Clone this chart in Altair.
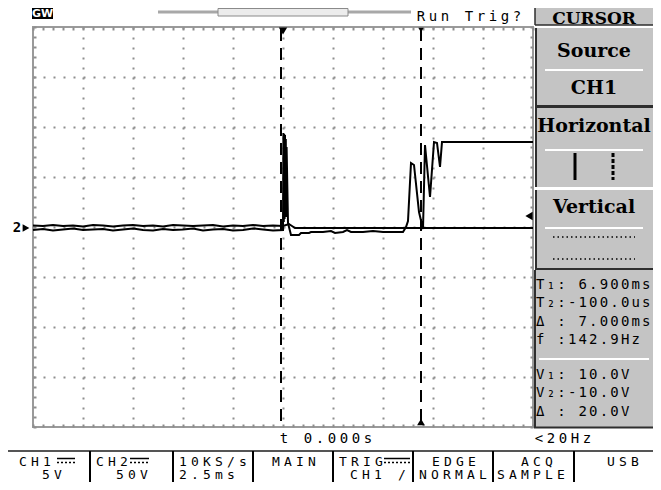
import altair as alt
import pandas as pd

# ---------------- waveform data (time in ms, volts) ----------------
pre_t = [-12.5, -12.0, -11.5, -11.0, -10.5, -10.0, -9.5, -9.0, -8.5, -8.0, -7.5, -7.0, -6.5,
         -6.0, -5.5, -5.0, -4.5, -4.0, -3.5, -3.0, -2.5, -2.0, -1.5, -1.0, -0.5, 0.0]
ch1_pre_v = [-0.3, -0.2, -0.35, -0.25, -0.15, -0.3, -0.25, -0.2, -0.35, -0.25, -0.15, -0.3, -0.35,
             -0.2, -0.3, -0.25, -0.15, -0.35, -0.25, -0.2, -0.35, -0.3, -0.15, -0.25, -0.35, -0.3]
ch1_post_t = [0.02, 0.04, 0.06, 0.08, 0.10, 0.12, 0.14, 0.16, 0.18, 0.25, 0.4, 0.8, 0.9, 1.3,
              1.4, 2.0, 2.4, 2.6, 3.0, 3.2, 3.4, 4.0, 4.5, 5.0, 5.5, 6.0, 6.15, 6.25, 6.4, 6.55,
              6.8, 7.0, 7.1, 7.35, 7.55, 7.7, 7.85, 7.95, 12.5]
ch1_post_v = [9.4, 0.5, 9.3, 0.8, 9.2, 1.5, 8.8, 1.0, 8.0, 0.4, -0.8, -0.8, -0.6, -0.6,
              -0.5, -0.5, -0.4, -0.6, -0.5, -0.3, -0.5, -0.5, -0.4, -0.5, -0.5, -0.5, 0.0, 0.6,
              6.4, 6.2, 1.5, -0.2, 8.2, 3.0, 8.5, 8.4, 6.0, 8.5, 8.5]
ch2_pre_v = [0.15, 0.1, 0.2, 0.1, 0.15, 0.05, 0.2, 0.15, 0.05, 0.15, 0.2, 0.1, 0.15,
             0.05, 0.2, 0.15, 0.1, 0.15, 0.2, 0.05, 0.15, 0.1, 0.2, 0.1, 0.15, 0.1]
ch2_post_t = [0.3, 0.6, 12.5]
ch2_post_v = [0.3, -0.1, -0.1]

cursor_t = [-0.1, 6.9]       # T2, T1
trigger_t = [0.0]
trigger_level = [1.1]
ground_v = [-0.1]

# ---------------- texts ----------------
status_text = ["Run Trig?", "t 0.000s", "<20Hz"]
menu_text = ["CURSOR", "Source", "CH1", "Horizontal", "Vertical"]
readout_text = ["T\u2081: 6.900ms", "T\u2082:-100.0us", "\u0394 : 7.000ms", "f :142.9Hz",
                "V\u2081: 10.0V", "V\u2082:-10.0V", "\u0394 : 20.0V"]
bar_row1 = ["CH1", "CH2", "10KS/s", "MAIN", "TRIG", "EDGE", "ACQ", "USB"]
bar_row2 = ["5V", "50V", "2.5ms", "", "CH1 /", "NORMAL", "SAMPLE", ""]
logo_text = "GW"
ground_label = "2"

# ---------------- layout (page pixels) ----------------
OX, OY = 33, 27          # plot-area origin on the page
W, H = 500, 400
R = 653                   # right edge of drawable page area
B = 482                   # bottom edge of drawable page area
GRID = "#8e8e8e"
PANEL = "#c4c4c4"
DARK = "#2e2e2e"
MONO = "DejaVu Sans Mono"
CX = (535 + R) / 2

def px(x):
    return x - OX

def py(y):
    return y - OY

def mono_rows(text, x0, y, pitch, size):
    return [{"x": px(x0) + i * pitch + pitch / 2, "y": py(y), "ch": c, "s": size}
            for i, c in enumerate(text) if c != " "]

xs = alt.Scale(domain=[-12.5, 12.5], nice=False, zero=False)
ys = alt.Scale(domain=[-20, 20], nice=False, zero=False)
PX = dict(scale=None, axis=None)

ch1 = pd.DataFrame({"t": pre_t + ch1_post_t, "v": ch1_pre_v + ch1_post_v})
ch2 = pd.DataFrame({"t": pre_t + ch2_post_t, "v": ch2_pre_v + ch2_post_v})

grid_x = alt.Axis(orient="bottom", values=[-10, -7.5, -5, -2.5, 0, 2.5, 5, 7.5, 10], grid=True,
                  gridColor=GRID, gridDash=[2, 8], gridWidth=2, ticks=False, labels=False,
                  domain=False, title=None)
grid_y = alt.Axis(orient="left", values=[-15, -10, -5, 0, 5, 10, 15], grid=True,
                  gridColor=GRID, gridDash=[2, 8], gridWidth=2, ticks=False, labels=False,
                  domain=False, title=None)
minor_x = [round(-12.5 + 0.5 * i, 2) for i in range(51)]
minor_y = [-20 + i for i in range(41)]

def tick_axis(orient, vals):
    return alt.Axis(orient=orient, values=vals, grid=False, ticks=True, tickSize=3, tickWidth=2,
                    tickColor=GRID, offset=-3, labels=False, domain=False, title=None)

grid_layer = alt.Chart(ch2).mark_line(opacity=0).encode(
    x=alt.X("t:Q", scale=xs, axis=grid_x), y=alt.Y("v:Q", scale=ys, axis=grid_y))
tick_layer1 = alt.Chart(ch2).mark_line(opacity=0).encode(
    x=alt.X("t:Q", scale=xs, axis=tick_axis("bottom", minor_x)),
    y=alt.Y("v:Q", scale=ys, axis=tick_axis("left", minor_y)))
tick_layer2 = alt.Chart(ch2).mark_line(opacity=0).encode(
    x=alt.X("t:Q", scale=xs, axis=tick_axis("top", minor_x)),
    y=alt.Y("v:Q", scale=ys, axis=tick_axis("right", minor_y)))

line2 = alt.Chart(ch2).mark_line(color="black", strokeWidth=2).encode(
    x=alt.X("t:Q", scale=xs, axis=None), y=alt.Y("v:Q", scale=ys, axis=None))
line1 = alt.Chart(ch1).mark_line(color="black", strokeWidth=2, interpolate="linear").encode(
    x=alt.X("t:Q", scale=xs, axis=None), y=alt.Y("v:Q", scale=ys, axis=None))

cur = pd.DataFrame({"t": cursor_t})
cursor_lines = alt.Chart(cur).mark_rule(color="black", strokeWidth=2, strokeDash=[12, 7]).encode(
    x=alt.X("t:Q", scale=xs, axis=None), y=alt.value(2), y2=alt.value(396))
trig_mark = alt.Chart(pd.DataFrame({"t": trigger_t})).mark_point(
    shape="triangle-down", filled=True, color="black", size=70, opacity=1).encode(
    x=alt.X("t:Q", scale=xs, axis=None), y=alt.value(4))
c1_top = alt.Chart(pd.DataFrame({"t": cursor_t[1:]})).mark_point(
    shape="triangle-down", filled=True, color="black", size=30, opacity=1).encode(
    x=alt.X("t:Q", scale=xs, axis=None), y=alt.value(3))
c1_bot = alt.Chart(pd.DataFrame({"t": cursor_t[1:]})).mark_point(
    shape="triangle-up", filled=True, color="black", size=60, opacity=1).encode(
    x=alt.X("t:Q", scale=xs, axis=None), y=alt.value(395))
lvl_mark = alt.Chart(pd.DataFrame({"v": trigger_level})).mark_point(
    shape="triangle-left", filled=True, color="black", size=70, opacity=1).encode(
    x=alt.value(W - 4), y=alt.Y("v:Q", scale=ys, axis=None))
gnd_mark = alt.Chart(pd.DataFrame({"v": ground_v})).mark_point(
    shape="triangle-right", filled=True, color="black", size=60, opacity=1).encode(
    x=alt.value(px(26)), y=alt.Y("v:Q", scale=ys, axis=None))
gnd_text = alt.Chart(pd.DataFrame({"v": ground_v, "s": [ground_label]})).mark_text(
    font=MONO, fontSize=14, fontWeight="bold", color="black").encode(
    x=alt.value(px(17)), y=alt.Y("v:Q", scale=ys, axis=None), text="s:N")

# ---------------- right panel / chrome ----------------
rects = pd.DataFrame([
    {"x": px(535), "x2": px(R), "y": py(8), "y2": py(25), "f": PANEL},
    {"x": px(535), "x2": px(R), "y": py(28), "y2": py(105), "f": PANEL},
    {"x": px(535), "x2": px(R), "y": py(108), "y2": py(187), "f": PANEL},
    {"x": px(535), "x2": px(R), "y": py(190), "y2": py(268), "f": PANEL},
    {"x": px(534), "x2": px(R), "y": py(270), "y2": py(427), "f": PANEL},
    {"x": px(32), "x2": px(53), "y": py(8), "y2": py(19), "f": "black"},
    {"x": px(218), "x2": px(348), "y": py(8.5), "y2": py(16), "f": "#ececec"},
])
rect_layer = alt.Chart(rects).mark_rect(stroke=None).encode(
    x=alt.X("x:Q", **PX), x2="x2:Q", y=alt.Y("y:Q", **PX), y2="y2:Q",
    color=alt.Color("f:N", scale=None))

rules = pd.DataFrame([
    # panel bevels
    {"x": px(535), "x2": px(R), "y": py(25), "y2": py(25), "c": DARK, "w": 1.5},
    {"x": px(535), "x2": px(535), "y": py(8), "y2": py(25), "c": DARK, "w": 1.5},
    {"x": px(536), "x2": px(536), "y": py(28), "y2": py(106), "c": DARK, "w": 2},
    {"x": px(535), "x2": px(R), "y": py(106.5), "y2": py(106.5), "c": DARK, "w": 3},
    {"x": px(536), "x2": px(536), "y": py(108), "y2": py(187), "c": DARK, "w": 2},
    {"x": px(536), "x2": px(536), "y": py(190), "y2": py(268), "c": DARK, "w": 2},
    {"x": px(535), "x2": px(R), "y": py(269), "y2": py(269), "c": DARK, "w": 2},
    {"x": px(535), "x2": px(535), "y": py(270), "y2": py(428), "c": DARK, "w": 2},
    {"x": px(534), "x2": px(R), "y": py(427.5), "y2": py(427.5), "c": DARK, "w": 2},
    # white separators inside menu boxes
    {"x": px(545), "x2": px(643), "y": py(70), "y2": py(70), "c": "white", "w": 2},
    {"x": px(545), "x2": px(643), "y": py(150), "y2": py(150), "c": "white", "w": 2},
    {"x": px(545), "x2": px(643), "y": py(228), "y2": py(228), "c": "white", "w": 2},
    {"x": px(539), "x2": px(649), "y": py(359), "y2": py(359), "c": "white", "w": 2},
    # horizontal-cursor icon (solid)
    {"x": px(575), "x2": px(575), "y": py(153), "y2": py(180), "c": "black", "w": 3},
    # memory bar
    {"x": px(158), "x2": px(218), "y": py(12), "y2": py(12), "c": "#a8a8a8", "w": 3},
    {"x": px(348), "x2": px(411), "y": py(12), "y2": py(12), "c": "#a8a8a8", "w": 3},
    {"x": px(218), "x2": px(348), "y": py(8.5), "y2": py(8.5), "c": "#8a8a8a", "w": 1},
    {"x": px(218), "x2": px(348), "y": py(16), "y2": py(16), "c": "#8a8a8a", "w": 1},
    {"x": px(218), "x2": px(218), "y": py(8.5), "y2": py(16), "c": "#8a8a8a", "w": 1},
    {"x": px(348), "x2": px(348), "y": py(8.5), "y2": py(16), "c": "#8a8a8a", "w": 1},
    # bottom bar
    {"x": px(8), "x2": px(R), "y": py(451), "y2": py(451), "c": "#555555", "w": 2},
] + [
    {"x": px(sx), "x2": px(sx), "y": py(451), "y2": py(B), "c": "black", "w": 2}
    for sx in [90, 173, 253, 333, 413, 493, 574]
] + [
    {"x": px(a), "x2": px(b), "y": py(458.5), "y2": py(458.5), "c": "black", "w": 1.5}
    for a, b in [(57, 75), (130, 149), (384, 410)]
])
rule_layer = alt.Chart(rules).mark_rule().encode(
    x=alt.X("x:Q", **PX), x2="x2:Q", y=alt.Y("y:Q", **PX), y2="y2:Q",
    color=alt.Color("c:N", scale=None), strokeWidth=alt.StrokeWidth("w:Q", scale=None))

dash_icon = alt.Chart(pd.DataFrame({"x": [px(613)], "y": [py(153)], "y2": [py(180)]})).mark_rule(
    color="black", strokeWidth=3, strokeDash=[4, 2]).encode(
    x=alt.X("x:Q", **PX), y=alt.Y("y:Q", **PX), y2="y2:Q")
dot_lines = alt.Chart(pd.DataFrame({"x": [px(553)] * 2, "x2": [px(635)] * 2,
                                    "y": [py(237), py(259)]})).mark_rule(
    color="black", strokeWidth=1.5, strokeDash=[1.5, 3]).encode(
    x=alt.X("x:Q", **PX), x2="x2:Q", y=alt.Y("y:Q", **PX))
coupling = alt.Chart(pd.DataFrame([
    {"x": px(a), "x2": px(b), "y": py(462.5)} for a, b in [(57, 75), (130, 149), (384, 410)]
])).mark_rule(color="black", strokeWidth=1.5, strokeDash=[2, 2]).encode(
    x=alt.X("x:Q", **PX), x2="x2:Q", y=alt.Y("y:Q", **PX))

# monospaced scope-style texts laid out on a character grid
chars = []
chars += mono_rows(status_text[0], 415, 16.5, 12, 14)
chars += mono_rows(status_text[1], 278, 439, 12, 14)
chars += mono_rows(status_text[2], 533, 439, 12, 14)
for txt, yy in zip(readout_text, [285, 303, 322, 340, 375, 393, 412]):
    chars += mono_rows(txt, 535, yy, 10.6, 14)
for txt, x0 in zip(bar_row1, [17, 94, 177, 270, 337, 430, 519, 605]):
    chars += mono_rows(txt, x0, 461.5, 12, 13)
for txt, x0 in zip(bar_row2, [40, 114, 177, 0, 348, 417, 495, 0]):
    chars += mono_rows(txt, x0, 475, 12, 13)
mono_layer = alt.Chart(pd.DataFrame(chars)).mark_text(
    font=MONO, align="center", baseline="middle", color="black").encode(
    x=alt.X("x:Q", **PX), y=alt.Y("y:Q", **PX), text="ch:N",
    size=alt.Size("s:Q", scale=None))

menu_df = pd.DataFrame({
    "x": [px(CX), px(CX), px(CX), px(CX), px(CX)],
    "y": [py(18.5), py(51), py(88), py(126), py(207)],
    "s": [17, 19, 19, 19, 19],
    "t": menu_text,
})
menu_layer = alt.Chart(menu_df).mark_text(
    font="DejaVu Serif", fontWeight="bold", align="center", baseline="middle", color="black").encode(
    x=alt.X("x:Q", **PX), y=alt.Y("y:Q", **PX), text="t:N", size=alt.Size("s:Q", scale=None))

logo = alt.Chart(pd.DataFrame({"x": [px(42.5)], "y": [py(13.5)], "t": [logo_text]})).mark_text(
    font="DejaVu Sans", fontWeight="bold", fontSize=11, color="white", align="center",
    baseline="middle").encode(x=alt.X("x:Q", **PX), y=alt.Y("y:Q", **PX), text="t:N")

chart = alt.layer(
    rect_layer, grid_layer, tick_layer1, tick_layer2, line2, line1, cursor_lines,
    trig_mark, c1_top, c1_bot, lvl_mark, gnd_mark, gnd_text,
    rule_layer, dash_icon, dot_lines, coupling, mono_layer, menu_layer, logo,
).resolve_axis(x="independent", y="independent").properties(
    width=W, height=H,
    padding={"left": OX - 8, "top": OY - 8, "right": R - OX - W, "bottom": B - OY - H},
    autosize=alt.AutoSizeParams(type="none"),
    background="white",
).configure_view(stroke="#9a9a9a", strokeWidth=2)

chart.save("out.html", embed_options={"renderer": "svg", "actions": False})
